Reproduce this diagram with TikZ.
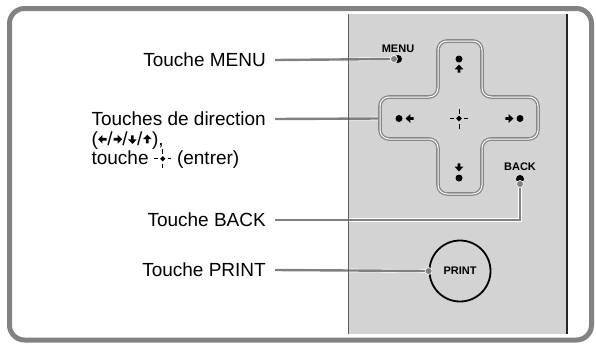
\documentclass[tikz,border=0pt]{standalone}
\usepackage{fontspec}
\setmainfont{Liberation Sans}
\usetikzlibrary{positioning,backgrounds}

\definecolor{panelgray}{RGB}{211,211,211}
\definecolor{leadgray}{RGB}{128,128,128}
\definecolor{framegray}{RGB}{130,130,130}
\definecolor{padgray}{RGB}{135,135,135}
\definecolor{sidegray}{RGB}{95,95,95}

% small block arrow and enter mark used inside the labels
\newcommand{\txtarrow}[1]{\tikz[baseline=-6pt,x=1pt,y=1pt]{
  \path (-4.8,-4.8) rectangle (4.8,4.8);
  \fill[rotate=#1] (0,4.6) -- (4.3,0.2) -- (1.3,0.2) -- (1.3,-4) -- (-1.3,-4) -- (-1.3,0.2) -- (-4.3,0.2) -- cycle;}}
\newcommand{\txtenter}{\tikz[baseline=-6pt,x=1pt,y=1pt]{
  \fill (0,2.6) -- (2.6,0) -- (0,-2.6) -- (-2.6,0) -- cycle;
  \draw[line width=0.9pt] (-8.5,0) -- (-5,0) (5,0) -- (8.5,0) (0,5) -- (0,9.5) (0,-5) -- (0,-9.5);}}

\tikzset{
  padarrow/.pic={\fill (0,-4.5) -- (4.3,0.3) -- (1.3,0.3) -- (1.3,3.6) -- (-1.3,3.6) -- (-1.3,0.3) -- (-4.3,0.3) -- cycle;},
  padenter/.pic={\fill (0,-2.8) -- (2.8,0) -- (0,2.8) -- (-2.8,0) -- cycle;
    \draw[line width=1pt] (-9,0) -- (-5,0) (5,0) -- (9,0) (0,-5) -- (0,-10) (0,5) -- (0,10);}
}

\begin{document}
\begin{tikzpicture}[x=1pt,y=-1pt,
    key/.style={font=\fontsize{19}{19.5}\selectfont, inner sep=0pt},
    btnlabel/.style={font=\fontsize{11}{12}\selectfont\bfseries, inner sep=0pt},
    btndot/.style={circle, fill=black, inner sep=0pt, minimum size=8pt},
    paddot/.style={circle, fill=black, inner sep=0pt, minimum size=7pt},
    tip/.style={circle, fill=leadgray, draw=white, line width=0.6pt, inner sep=0pt, minimum size=7pt},
    leader/.style={draw=white, line width=0.6pt, double=leadgray, double distance=2.4pt},
    padedge/.style={draw=padgray, line width=1.3pt, double=white, double distance=1pt, rounded corners=9pt}]
  \useasboundingbox (0,0) rectangle (596,343);

  % panel of the printer
  \begin{scope}[on background layer]
    \fill[panelgray] (348,14) rectangle (567,334);
  \end{scope}
  \draw[sidegray, line width=0.9pt] (348,14) -- (348,334);
  \draw[black!85, line width=1.2pt] (567,14) -- (567,334);
  \draw[framegray, line width=5pt, rounded corners=15pt] (9.5,8.5) rectangle (591.5,340);

  % direction pad
  \draw[padedge] (438,41) -- (482,41) -- (482,97) -- (538,97) -- (538,139) -- (482,139)
    -- (482,194) -- (438,194) -- (438,139) -- (380,139) -- (380,97) -- (438,97) -- cycle;
  \coordinate (padw) at (380,118.5);
  \node[paddot] (dup) at (459,59) {};
  \node[paddot] (dleft) at (399,118.5) {};
  \node[paddot] (dright) at (520,118.5) {};
  \node[paddot] (ddown) at (459,178) {};
  \pic at (459,69) {padarrow};
  \pic[rotate=90] at (410,118.5) {padarrow};
  \pic[rotate=180] at (459,167) {padarrow};
  \pic[rotate=-90] at (509,118.5) {padarrow};
  \pic at (459,118.5) {padenter};

  % buttons
  \node[btnlabel] (menulbl) at (398,49) {MENU};
  \node[btndot] (menubtn) at (398,59) {};
  \node[tip] (menutip) at (394,59) {};
  \node[btnlabel] (backlbl) at (520,167) {BACK};
  \node[btndot] (backbtn) at (520,179) {};
  \node[tip] (backtip) at (520,184) {};
  \node[circle, draw, line width=1.8pt, minimum size=61pt, btnlabel] (printbtn) at (460,271) {PRINT};
  \node[tip] (printtip) at (printbtn.west) {};

  % labels
  \node[key, anchor=east] (menutxt) at (266,60) {Touche MENU};
  \node[key, anchor=east] (dirtxt) at (266,119) {Touches de direction};
  \node[key, anchor=base west] (dirarr) at ([yshift=-19.5pt]dirtxt.base west)
    {(\txtarrow{90}/\txtarrow{-90}/\txtarrow{180}/\txtarrow{0}),};
  \node[key, anchor=base west] (dirent) at ([yshift=-19.5pt]dirarr.base west)
    {touche \txtenter{} (entrer)};
  \node[key, anchor=east] (backtxt) at (266,220) {Touche BACK};
  \node[key, anchor=east] (printtxt) at (266,270) {Touche PRINT};

  \begin{scope}[on background layer]
    \foreach \from/\to in {menutxt/menutip, dirtxt/padw, printtxt/printtip}
      \draw[leader] ([xshift=9pt]\from.east) -- (\to);
    \draw[leader] ([xshift=9pt]backtxt.east) -| (backtip);
  \end{scope}
\end{tikzpicture}
\end{document}
